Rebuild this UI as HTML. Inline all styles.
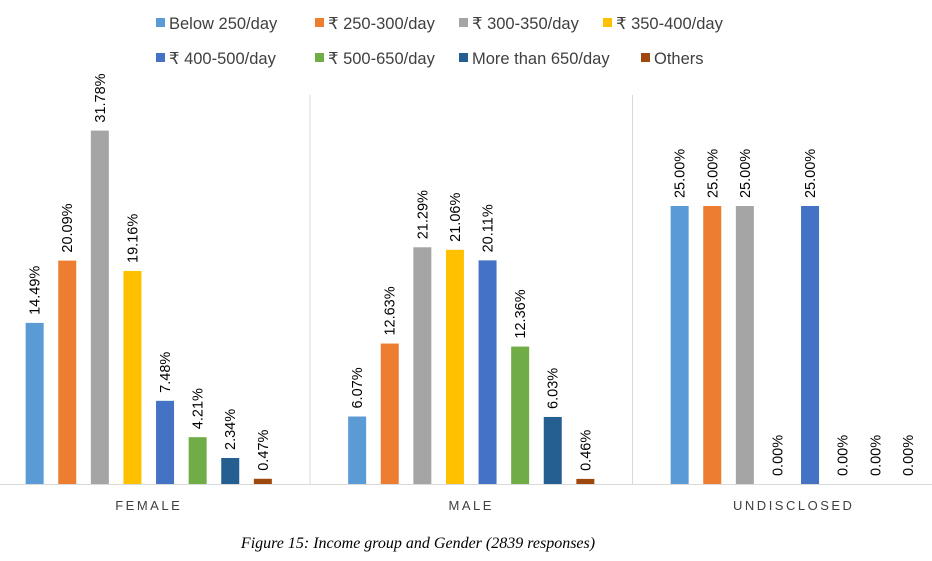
<!DOCTYPE html>
<html><head><meta charset="utf-8"><style>
body{margin:0;background:#fff;width:932px;height:556px;overflow:hidden;font-family:"Liberation Sans",sans-serif}
</style></head><body>
<svg id="c" width="932" height="556" xmlns="http://www.w3.org/2000/svg"></svg>
<script>
const categories=["FEMALE","MALE","UNDISCLOSED"];
const seriesNames=["Below 250/day","₹ 250-300/day","₹ 300-350/day","₹ 350-400/day","₹ 400-500/day","₹ 500-650/day","More than 650/day","Others"];
const femaleValues=[14.49,20.09,31.78,19.16,7.48,4.21,2.34,0.47];
const maleValues=[6.07,12.63,21.29,21.06,20.11,12.36,6.03,0.46];
const undisclosedValues=[25,25,25,0,25,0,0,0];
const colors=["#5B9BD5","#ED7D31","#A5A5A5","#FFC000","#4472C4","#70AD47","#255E91","#9E480E"];
const values=[femaleValues,maleValues,undisclosedValues];
const NS="http://www.w3.org/2000/svg",svg=document.getElementById('c');
function mk(t,a,txt){const e=document.createElementNS(NS,t);for(const k in a)e.setAttribute(k,a[k]);if(txt!=null)e.textContent=txt;svg.appendChild(e);return e;}
const base=484,pxPer=11.12,left=-12.5,gw=322.5,step=32.6,bw=18;
const y=v=>base-v*pxPer;
const xc=(g,i)=>left+gw*g+gw/2+(i-3.5)*step;
for(let g=1;g<3;g++){const l=mk('line',{x1:left+gw*g,x2:left+gw*g,y1:95,y2:base,stroke:'#d9d9d9','stroke-width':1});

}
values.forEach((arr,g)=>{
 arr.forEach((v,i)=>{
  const r=mk('rect',{x:xc(g,i)-bw/2,y:y(v),width:bw,height:v*pxPer,fill:colors[i]});
  
  
  const ty=y(v)-8,tx=xc(g,i)+5;
  const t=mk('text',{x:tx,y:ty,transform:`rotate(-90 ${tx} ${ty})`,'font-size':14.5,fill:'#000'},v.toFixed(2)+'%');
  
  
 });
 const c=mk('text',{x:left+gw*g+gw/2,y:510,'text-anchor':'middle','font-size':13,'letter-spacing':'2.5px',fill:'#404040'},categories[g]);
 
 
});
const ax=mk('line',{x1:0,x2:932,y1:base+0.5,y2:base+0.5,stroke:'#d9d9d9','stroke-width':1});


const lx=[156,315,459,603,156,315,459,641],ly=[23,23,23,23,58,58,58,58];
seriesNames.forEach((n,i)=>{
 const s=mk('rect',{x:lx[i],y:ly[i]-5,width:9,height:9,fill:colors[i]});
 
 
 const t=mk('text',{x:lx[i]+13,y:ly[i]+6,'font-size':16.5,fill:'#404040'},n);
 
 
});
const cap=mk('text',{x:418,y:548,'text-anchor':'middle','font-size':16,'font-style':'italic','font-family':'Liberation Serif, serif',fill:'#000'},'Figure 15: Income group and Gender (2839 responses)');


</script>
</body></html>
